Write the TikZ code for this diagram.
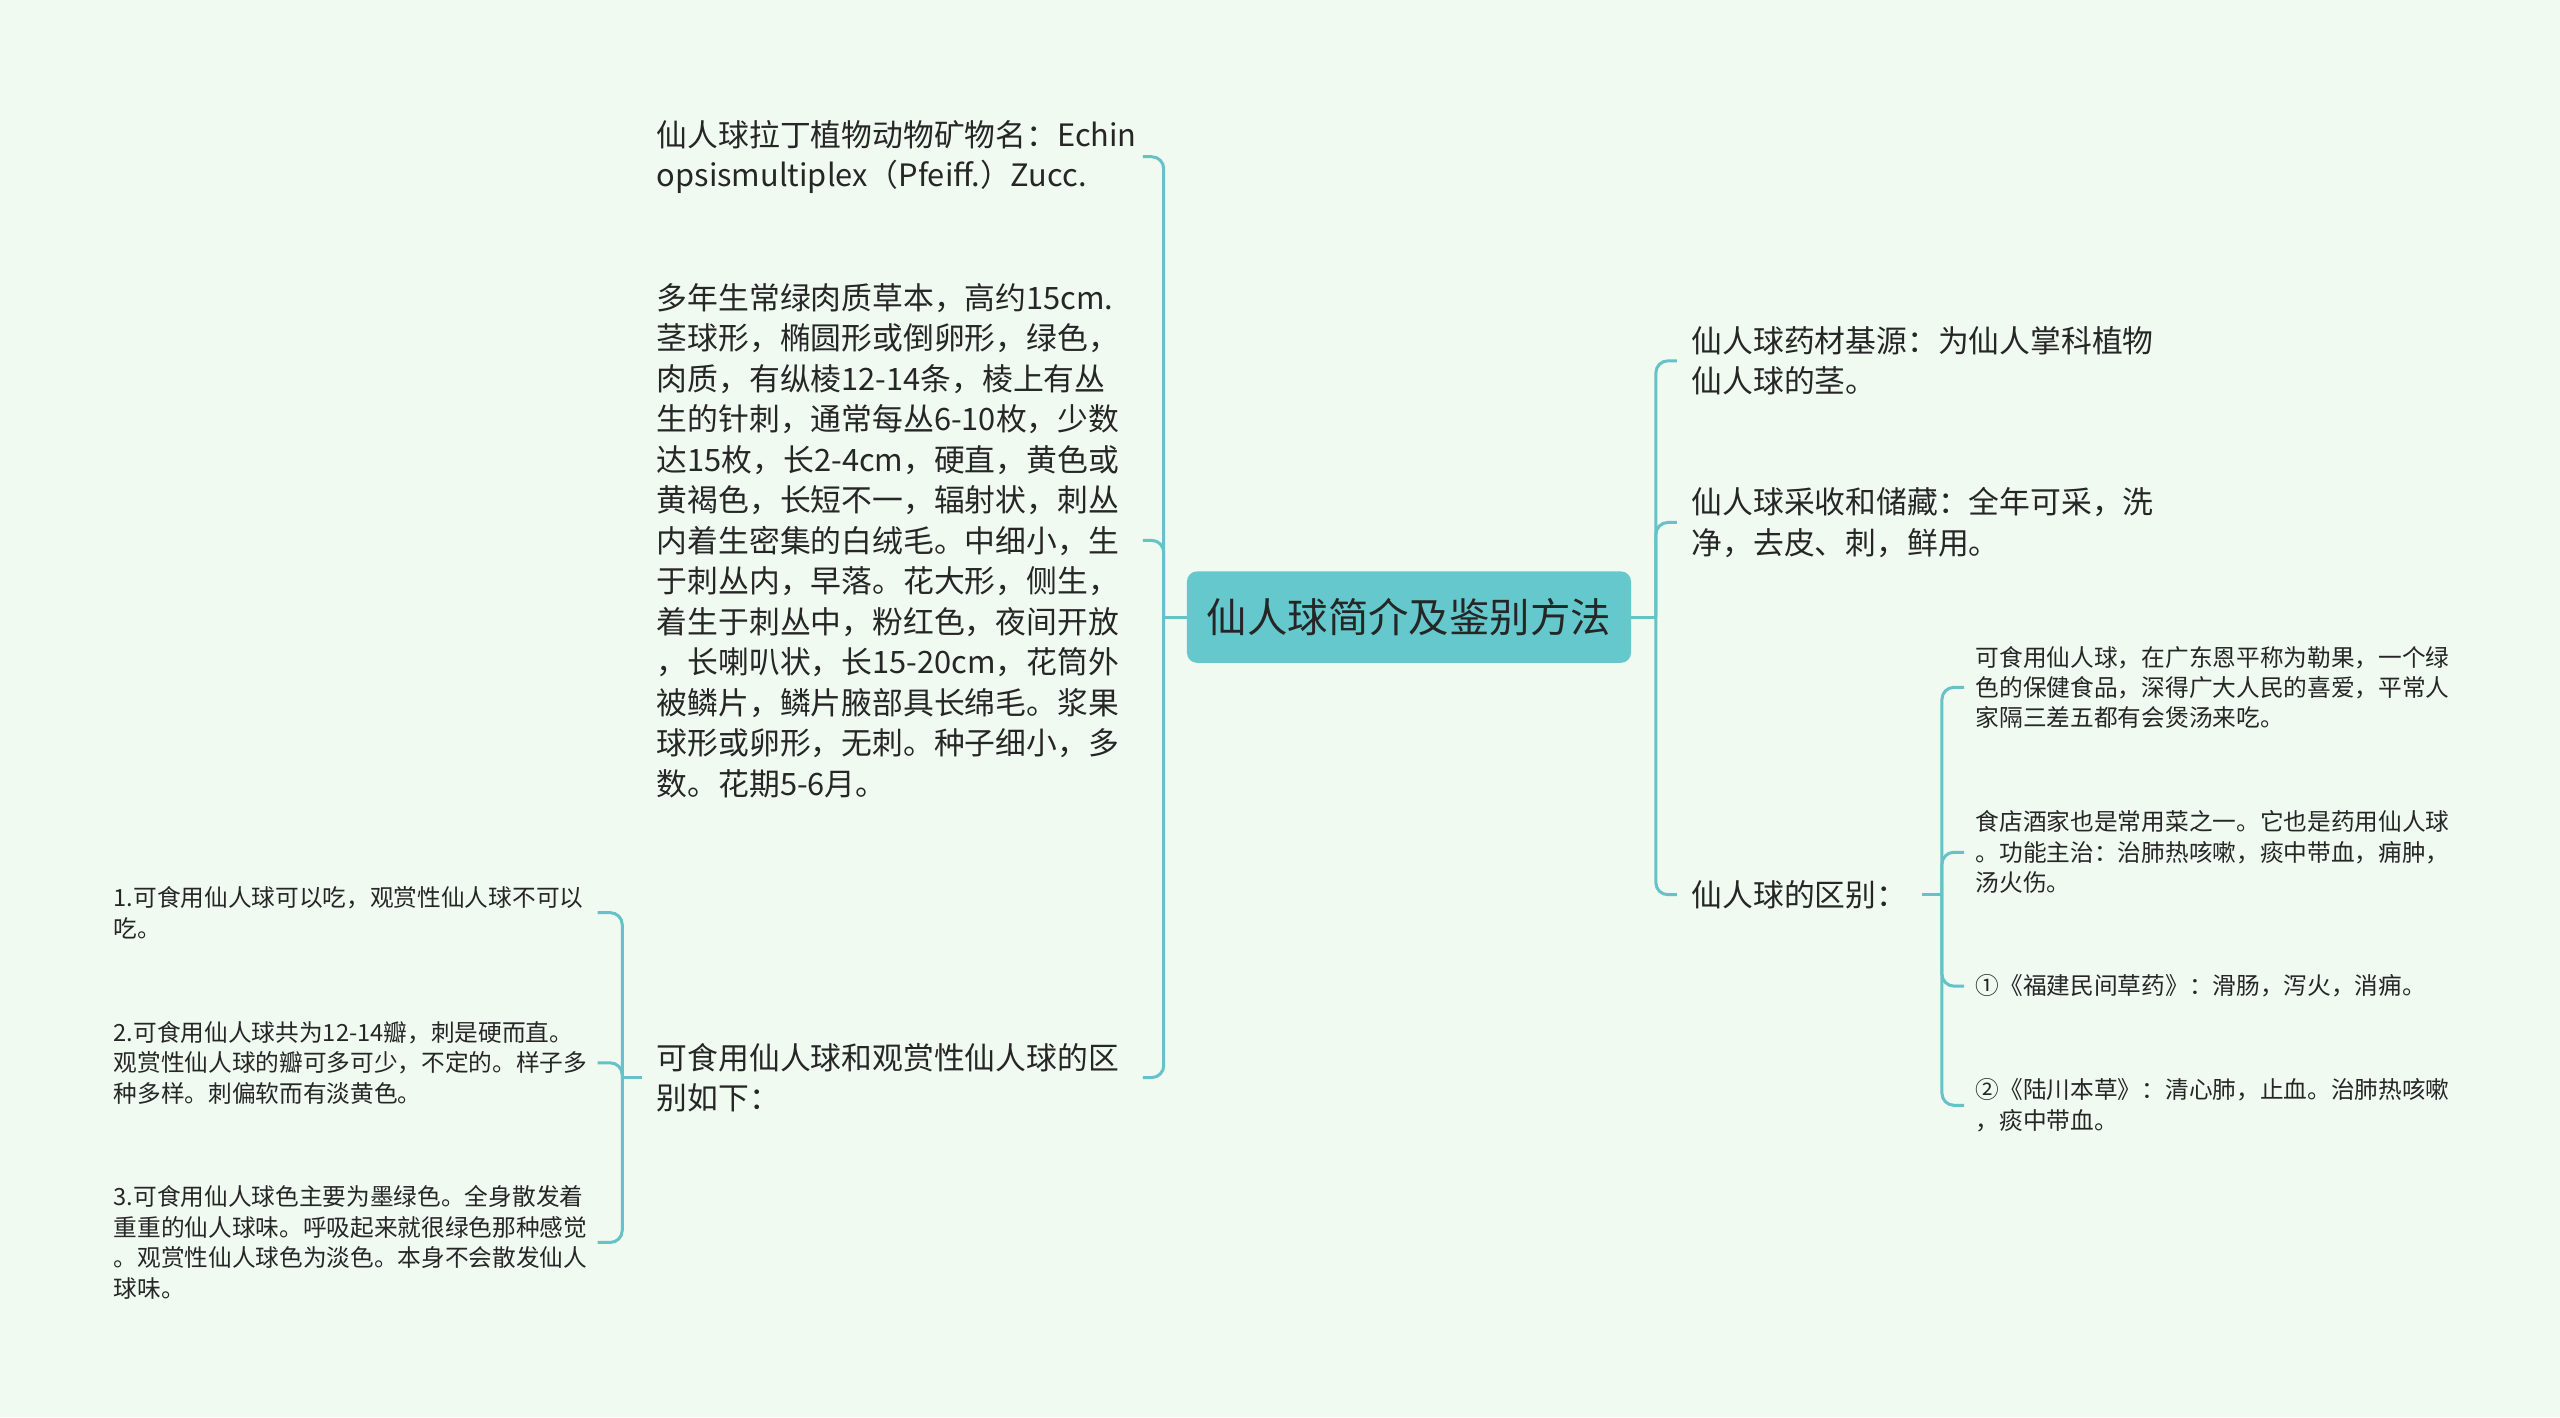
\documentclass[tikz,border=0pt]{standalone}
\usepackage{fontspec}
\setmainfont{Noto Sans CJK SC}
\usetikzlibrary{positioning,calc}
\definecolor{bgcol}{HTML}{F0FAF0}
\definecolor{rootcol}{HTML}{65C8CC}
\definecolor{linecol}{HTML}{66C2C8}
\definecolor{txtcol}{HTML}{262626}

\begin{document}
\begin{tikzpicture}[x=0.8163pt, y=-0.8163pt,
  font=\fontsize{15.4}{20.25}\selectfont, text=txtcol,
  root/.style={fill=rootcol, rounded corners=5pt, minimum width=222pt,
    minimum height=45.7pt, font=\fontsize{20.2}{24}\selectfont},
  leaf/.style={align=left, inner xsep=7.3pt, inner ysep=0pt},
  leftleaf/.style={leaf, text width=235.5pt, anchor=east},
  rightleaf/.style={leaf, anchor=west},
  twig/.style={align=left, inner xsep=5.7pt, inner ysep=0pt, text width=236pt,
    font=\fontsize{11.84}{15.2}\selectfont},
  branch/.style={draw=linecol, line width=1.5pt, rounded corners=6pt}]
    \fill[bgcol] (0,0) rectangle (1568,868);
    \node[root] (root) at (863,378) {仙人球简介及鉴别方法};
    \coordinate (lfork) at ($(root.west)+(-14,0)$);
    \coordinate (rfork) at ($(root.east)+(15,0)$);
    %
    \node[leftleaf] (latin) at (700,96) {仙人球拉丁植物动物矿物名：Echin\\opsismultiplex（Pfeiff.）Zucc.};
    \node[leftleaf] (desc) at (700,331) {多年生常绿肉质草本，高约15cm.\\茎球形，椭圆形或倒卵形，绿色，\\肉质，有纵棱12-14条，棱上有丛\\生的针刺，通常每丛6-10枚，少数\\达15枚，长2-4cm，硬直，黄色或\\黄褐色，长短不一，辐射状，刺丛\\内着生密集的白绒毛。中细小，生\\于刺丛内，早落。花大形，侧生，\\着生于刺丛中，粉红色，夜间开放\\，长喇叭状，长15-20cm，花筒外\\被鳞片，鳞片腋部具长绵毛。浆果\\球形或卵形，无刺。种子细小，多\\数。花期5-6月。};
    \node[leftleaf] (diff) at (700,660) {可食用仙人球和观赏性仙人球的区\\别如下：};
    \coordinate (dfork) at ($(diff.west)+(-12,0)$);
    %
    \node[twig, anchor=east] (d1) at (366,559) {1.可食用仙人球可以吃，观赏性仙人球不可以\\吃。};
    \node[twig, anchor=east] (d2) at (366,651) {2.可食用仙人球共为12-14瓣，刺是硬而直。\\观赏性仙人球的瓣可多可少，不定的。样子多\\种多样。刺偏软而有淡黄色。};
    \node[twig, anchor=east] (d3) at (366,761) {3.可食用仙人球色主要为墨绿色。全身散发着\\重重的仙人球味。呼吸起来就很绿色那种感觉\\。观赏性仙人球色为淡色。本身不会散发仙人\\球味。};
    %
    \node[rightleaf] (base) at (1027,221) {仙人球药材基源：为仙人掌科植物\\仙人球的茎。};
    \node[rightleaf] (harvest) at (1027,320) {仙人球采收和储藏：全年可采，洗\\净，去皮、刺，鲜用。};
    \node[rightleaf] (ident) at (1027,548) {仙人球的区别：};
    \coordinate (sfork) at ($(ident.east)+(12,0)$);
    %
    \node[twig, anchor=west] (s1) at (1203,421) {可食用仙人球，在广东恩平称为勒果，一个绿\\色的保健食品，深得广大人民的喜爱，平常人\\家隔三差五都有会煲汤来吃。};
    \node[twig, anchor=west] (s2) at (1203,522) {食店酒家也是常用菜之一。它也是药用仙人球\\。功能主治：治肺热咳嗽，痰中带血，痈肿，\\汤火伤。};
    \node[twig, anchor=west] (s3) at (1203,604) {①《福建民间草药》：滑肠，泻火，消痈。};
    \node[twig, anchor=west] (s4) at (1203,677) {②《陆川本草》：清心肺，止血。治肺热咳嗽\\，痰中带血。};
    %
    \draw[branch] (root.west) -- (lfork);
    \draw[branch] (lfork) |- (latin.east);
    \draw[branch] (lfork) |- (desc.east);
    \draw[branch] (lfork) |- (diff.east);
    \draw[branch] (diff.west) -- (dfork);
    \draw[branch] (dfork) |- (d1.east);
    \draw[branch] (dfork) |- (d2.east);
    \draw[branch] (dfork) |- (d3.east);
    %
    \draw[branch] (root.east) -- (rfork);
    \draw[branch] (rfork) |- (base.west);
    \draw[branch] (rfork) |- (harvest.west);
    \draw[branch] (rfork) |- (ident.west);
    \draw[branch] (ident.east) -- (sfork);
    \draw[branch] (sfork) |- (s1.west);
    \draw[branch] (sfork) |- (s2.west);
    \draw[branch] (sfork) |- (s3.west);
    \draw[branch] (sfork) |- (s4.west);
\end{tikzpicture}
\end{document}
